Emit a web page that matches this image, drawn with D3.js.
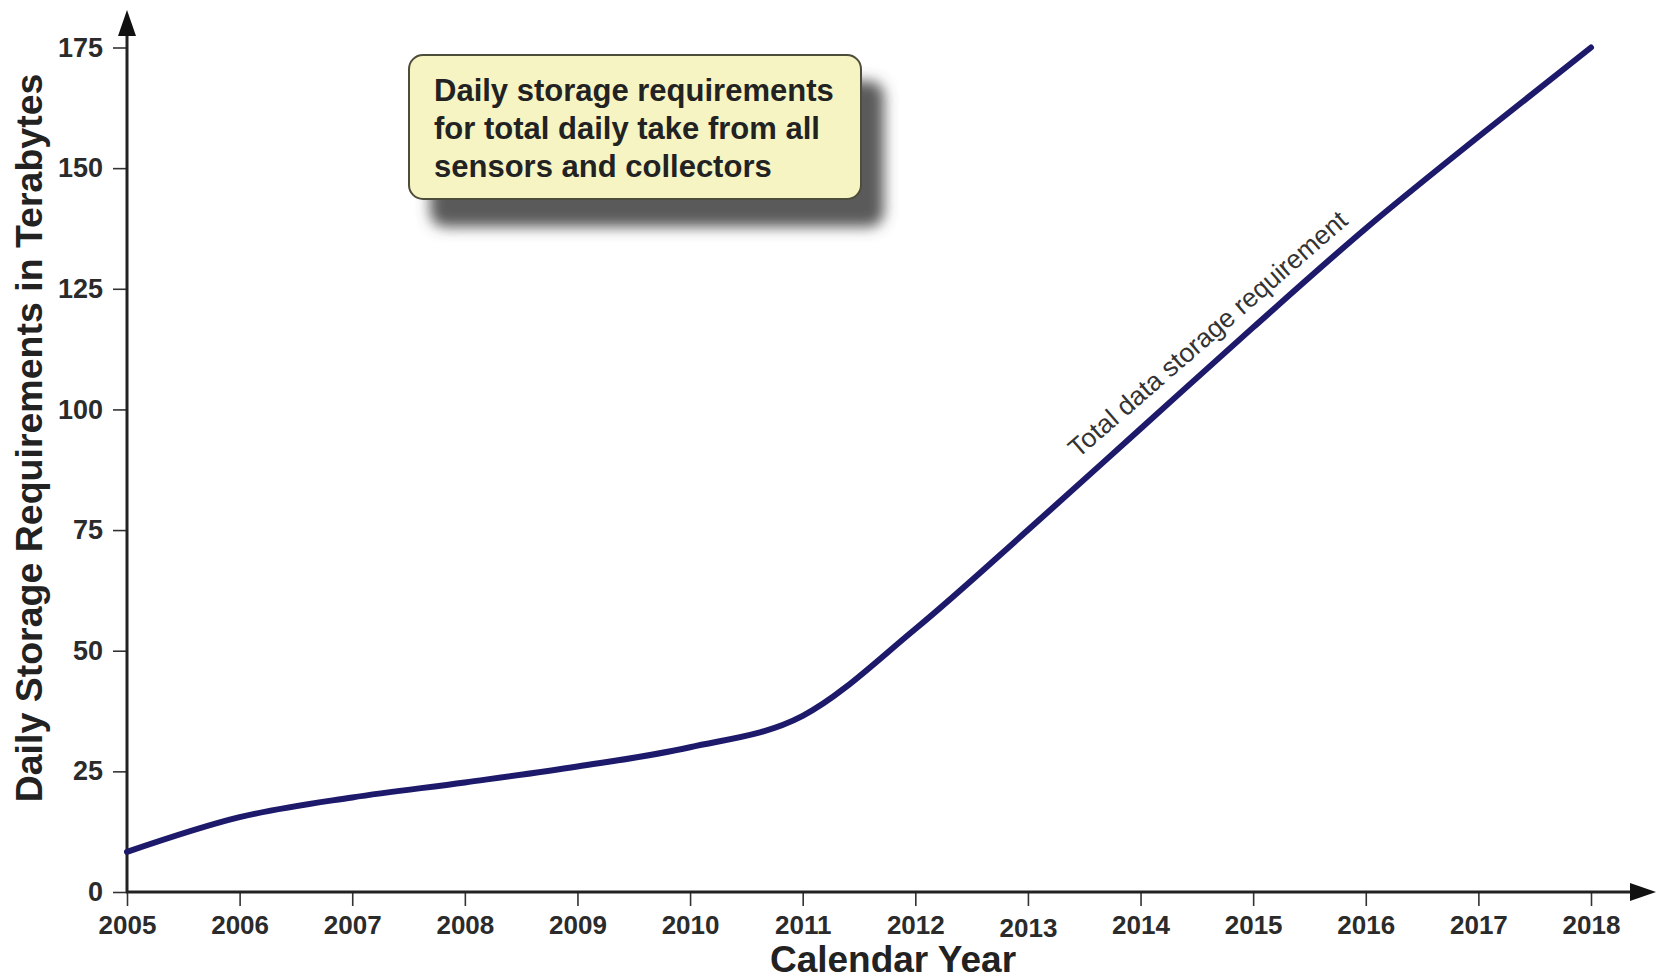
<!DOCTYPE html>
<html>
<head>
<meta charset="utf-8">
<script src="https://cdn.jsdelivr.net/npm/d3@7"></script>
<style>
  body { margin: 0; background: #fff; }
  svg { display: block; font-family: "Liberation Sans", Arial, Helvetica, sans-serif; }
</style>
</head>
<body>
<svg id="chart" width="1656" height="976"></svg>
<script>
// values
const years = [2005, 2006, 2007, 2008, 2009, 2010, 2011, 2012, 2013, 2014, 2015, 2016, 2017, 2018];
const storageTB = [8.3, 15.5, 19.6, 22.7, 26, 30, 36.5, 54.5, 75, 96, 117, 137.5, 156.5, 175];
const yTicks = [0, 25, 50, 75, 100, 125, 150, 175];
const noteLines = ["Daily storage requirements", "for total daily take from all", "sensors and collectors"];
const lineLabel = "Total data storage requirement";

const svg = d3.select("#chart");
const x = d3.scaleLinear().domain([2005, 2018]).range([127, 1591]);
const y = d3.scaleLinear().domain([0, 175]).range([892, 47.5]);

const defs = svg.append("defs");
defs.append("filter")
    .attr("id", "shadow")
    .attr("x", "-10%").attr("y", "-10%")
    .attr("width", "130%").attr("height", "160%")
  .append("feDropShadow")
    .attr("dx", 22).attr("dy", 27)
    .attr("stdDeviation", 7)
    .attr("flood-color", "#4a4a4a")
    .attr("flood-opacity", 0.9);

// y axis
const yAxis = svg.append("g")
    .attr("transform", "translate(" + x(2005) + ",0)")
    .call(d3.axisLeft(y).tickValues(yTicks).tickSize(14).tickSizeOuter(0).tickPadding(10));
yAxis.select(".domain").remove();
yAxis.selectAll(".tick line").attr("stroke", "#333").attr("stroke-width", 1.6);
yAxis.selectAll(".tick text")
    .attr("font-size", 27).attr("font-weight", "bold").attr("fill", "#2b2b2b")
    .attr("font-family", "Liberation Sans, Arial, sans-serif");

// x axis
const xAxis = svg.append("g")
    .attr("transform", "translate(0," + y(0) + ")")
    .call(d3.axisBottom(x).tickValues(years).tickFormat(d3.format("d")).tickSize(14).tickSizeOuter(0).tickPadding(8));
xAxis.select(".domain").remove();
xAxis.selectAll(".tick line").attr("stroke", "#333").attr("stroke-width", 1.6);
xAxis.selectAll(".tick text")
    .attr("font-size", 26).attr("font-weight", "bold").attr("fill", "#2b2b2b")
    .attr("font-family", "Liberation Sans, Arial, sans-serif")
    .attr("dy", d => d === 2013 ? "0.9em" : "0.75em");

// axis lines with arrows
svg.append("line")
    .attr("x1", x(2005)).attr("x2", x(2005))
    .attr("y1", y(0) + 1).attr("y2", 30)
    .attr("stroke", "#222").attr("stroke-width", 3);
svg.append("path")
    .attr("d", "M" + x(2005) + ",10 l-9,26 l18,0 z")
    .attr("fill", "#111");
svg.append("line")
    .attr("x1", x(2005) - 1).attr("x2", 1634)
    .attr("y1", y(0)).attr("y2", y(0))
    .attr("stroke", "#222").attr("stroke-width", 3);
svg.append("path")
    .attr("d", "M1656," + y(0) + " l-26,-9 l0,18 z")
    .attr("fill", "#111");

// axis titles
svg.append("text")
    .attr("x", 893).attr("y", 972)
    .attr("text-anchor", "middle")
    .attr("font-size", 37).attr("font-weight", "bold").attr("fill", "#222")
    .text("Calendar Year");
svg.append("text")
    .attr("transform", "translate(42,438) rotate(-90)")
    .attr("text-anchor", "middle")
    .attr("font-size", 37.5).attr("font-weight", "bold").attr("fill", "#222")
    .text("Daily Storage Requirements in Terabytes");

// the curve
const line = d3.line()
    .x((d, i) => x(years[i]))
    .y(d => y(d))
    .curve(d3.curveMonotoneX);
svg.append("path")
    .datum(storageTB)
    .attr("d", line)
    .attr("fill", "none")
    .attr("stroke", "#1e1a6b")
    .attr("stroke-width", 6)
    .attr("stroke-linecap", "round");

// label along the line
const lx0 = x(2013.33) + 13, ly0 = y(90) + 1;
svg.append("text")
    .attr("transform", "translate(" + lx0 + "," + ly0 + ") rotate(-41)")
    .attr("font-size", 26.5).attr("fill", "#333")
    .text(lineLabel);

// note box
const note = svg.append("g");
note.append("rect")
    .attr("x", 409).attr("y", 55)
    .attr("width", 452).attr("height", 144)
    .attr("rx", 14)
    .attr("fill", "#f6f4c3")
    .attr("stroke", "#4d4d3a")
    .attr("stroke-width", 2)
    .attr("filter", "url(#shadow)");
note.selectAll("text.note")
    .data(noteLines)
    .enter().append("text")
    .attr("class", "note")
    .attr("x", 434)
    .attr("y", (d, i) => 101 + i * 38)
    .attr("font-size", 31).attr("font-weight", "bold").attr("fill", "#222")
    .text(d => d);
</script>
</body>
</html>
